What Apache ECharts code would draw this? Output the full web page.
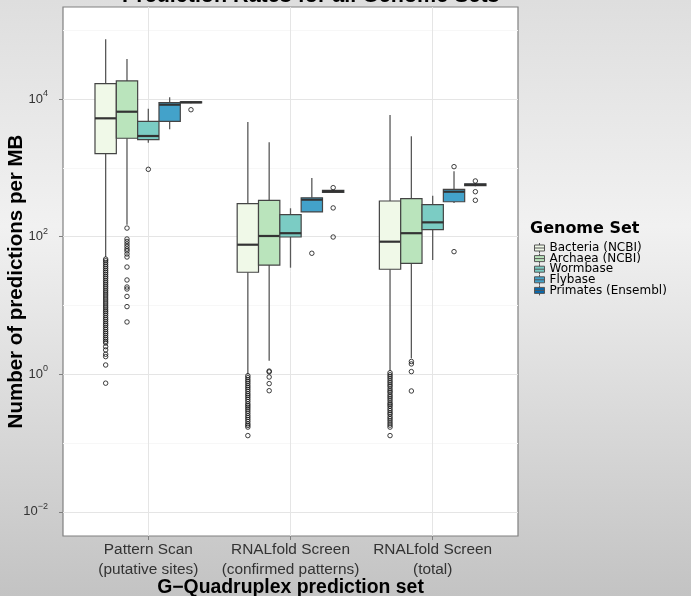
<!DOCTYPE html>
<html>
<head>
<meta charset="utf-8">
<script src="https://cdn.jsdelivr.net/npm/echarts@6/dist/echarts.min.js"></script>
<style>html,body{margin:0;padding:0;}#chart{width:691px;height:596px;}</style>
</head>
<body>
<div id="chart"></div>
<script>
// ---- Data ----
const categories = ['Pattern Scan\n(putative sites)', 'RNALfold Screen\n(confirmed patterns)', 'RNALfold Screen\n(total)'];
const genomeSets = ['Bacteria (NCBI)', 'Archaea (NCBI)', 'Wormbase', 'Flybase', 'Primates (Ensembl)'];
const yMajorTicks = [0.01, 1, 100, 10000];
const yMinorTicks = [0.1, 10, 1000, 100000];

// box stats per category: [lower whisker, Q1, median, Q3, upper whisker]
const bacteriaStats = [[50.5, 1603, 5236, 16670, 73800], [0.997, 30.3, 76.2, 301, 4640], [1.11, 33.5, 84.3, 329, 5850]];
const archaeaStats  = [[148, 2685, 6530, 18280, 38100], [1.57, 38.6, 102, 337, 2350], [1.70, 40.9, 112, 356, 2870]];
const wormbaseStats = [[2317, 2560, 2897, 4740, 7230], [35.3, 98.6, 112, 208, 258], [45.7, 126, 161, 291, 393]];
const flybaseStats  = [[3630, 4740, 8260, 8840, 10590], [228, 228, 344, 367, 711], [308, 321, 449, 487, 889]];
const primatesStats = [[8700, 8800, 8950, 9100, 9300], [430, 440, 455, 470, 480], [540, 550, 565, 585, 600]];

// outliers per category
const bacteriaOut = [
  [47, 44.5, 41.8, 39, 36.5, 34.2, 32, 30.1, 28.2, 26.4, 24.8, 23.1, 21.7, 20.3, 19, 17.8, 16.6, 15.6, 14.6, 13.7, 12.8, 12, 11.2, 10.5, 9.8, 9.2, 8.6, 8.1, 7.6, 7.1, 6.6, 6.2, 5.8, 5.4, 5.1, 4.75, 4.45, 4.15, 3.9, 3.65, 3.4, 3.2, 3.0, 2.84, 2.51, 2.25, 1.95, 1.80, 1.36, 0.74],
  [0.95, 0.89, 0.83, 0.78, 0.73, 0.68, 0.64, 0.6, 0.56, 0.52, 0.49, 0.46, 0.43, 0.4, 0.37, 0.35, 0.33, 0.31, 0.29, 0.27, 0.25, 0.235, 0.22, 0.205, 0.19, 0.18, 0.17, 0.128],
  [1.05, 0.98, 0.92, 0.86, 0.8, 0.75, 0.7, 0.66, 0.61, 0.57, 0.54, 0.5, 0.47, 0.44, 0.41, 0.38, 0.36, 0.34, 0.315, 0.295, 0.275, 0.26, 0.24, 0.225, 0.21, 0.195, 0.182, 0.17, 0.128]
];
const archaeaOut  = [[133, 92.2, 84.9, 78.0, 71.8, 66.0, 61.8, 55.9, 50.5, 36.1, 23.4, 18.5, 17.3, 13.5, 9.6, 5.74], [1.11, 1.08, 0.91, 0.73, 0.575], [1.53, 1.41, 1.09, 0.57]];
const wormbaseOut = [[950], [], []];
const flybaseOut  = [[], [57.2], [1038, 60.4]];
const primatesOut = [[6980], [514, 261, 98.6], [643, 449, 337]];

// ---- Styling / layout ----
const palette = ['#f0f9e8', '#bae4bc', '#7bccc4', '#43a2ca', '#0868ac'];
const FONT = '"Liberation Sans", Arial, Helvetica, sans-serif';
const LEGEND_FONT = '"DejaVu Sans", "Liberation Sans", Arial, sans-serif';
const BOX_W = 0.15;
const allStats = [bacteriaStats, archaeaStats, wormbaseStats, flybaseStats, primatesStats];
const allOut = [bacteriaOut, archaeaOut, wormbaseOut, flybaseOut, primatesOut];

function xPos(catIdx, setIdx) { return (catIdx + 1) + (setIdx - 2) * BOX_W; }

function renderBox(params, api) {
  const x = api.value(0);
  const v = [1, 2, 3, 4, 5].map(d => api.value(d));
  const yOf = val => api.coord([x, val])[1];
  const cx = api.coord([x, v[2]])[0];
  const xl = api.coord([x - BOX_W / 2, v[2]])[0];
  const xr = api.coord([x + BOX_W / 2, v[2]])[0];
  const yLo = yOf(v[0]), yQ1 = yOf(v[1]), yMed = yOf(v[2]), yQ3 = yOf(v[3]), yHi = yOf(v[4]);
  const fill = api.visual('color');
  const wStyle = { stroke: '#595959', lineWidth: 1.3 };
  return {
    type: 'group',
    children: [
      { type: 'line', shape: { x1: cx, y1: yHi, x2: cx, y2: yQ3 }, style: wStyle },
      { type: 'line', shape: { x1: cx, y1: yQ1, x2: cx, y2: yLo }, style: wStyle },
      { type: 'rect', shape: { x: xl, y: yQ3, width: xr - xl, height: Math.max(yQ1 - yQ3, 0.5) },
        style: { fill: fill, stroke: '#444', lineWidth: 1.2 } },
      { type: 'line', shape: { x1: xl, y1: yMed, x2: xr, y2: yMed }, style: { stroke: '#333', lineWidth: 2.2 } }
    ]
  };
}

const series = [];
genomeSets.forEach((name, s) => {
  series.push({
    name: name,
    type: 'custom',
    renderItem: renderBox,
    itemStyle: { color: palette[s] },
    encode: { x: 0, y: [1, 2, 3, 4, 5] },
    data: allStats[s].map((st, c) => [xPos(c, s)].concat(st)),
    z: 2
  });
});
genomeSets.forEach((name, s) => {
  const pts = [];
  allOut[s].forEach((arr, c) => arr.forEach(val => pts.push([xPos(c, s), val])));
  series.push({
    name: name,
    type: 'scatter',
    symbol: 'circle',
    symbolSize: 4.5,
    itemStyle: { color: 'rgba(0,0,0,0)', borderColor: '#111', borderWidth: 1 },
    data: pts,
    z: 3
  });
});

const ICON = 'path://M0,0H0.01V0.01H0Z M10,10H9.99V9.99H10Z M0,2H10V8H0Z M0,5H10 M5,0V2 M5,8V10';

const chart = echarts.init(document.getElementById('chart'), null, { renderer: 'canvas' });
chart.setOption({
  animation: false,
  backgroundColor: {
    type: 'linear', x: 0, y: 0, x2: 0, y2: 1,
    colorStops: [
      { offset: 0, color: '#dedede' },
      { offset: 0.38, color: '#f1f1f1' },
      { offset: 1, color: '#c3c3c3' }
    ]
  },
  title: [
    { text: 'Prediction Rates for all Genome Sets', left: 117, top: -20,
      textStyle: { fontFamily: FONT, fontWeight: 'bold', fontSize: 21.5, color: '#000' } },
    { text: 'Genome Set', left: 530, top: 221, padding: 0,
      textStyle: { fontFamily: LEGEND_FONT, fontWeight: 'bold', fontSize: 16, color: '#000' } }
  ],
  legend: {
    orient: 'vertical',
    left: 534, top: 242,
    padding: 0,
    itemWidth: 10, itemHeight: 10, itemGap: -1.4,
    selectedMode: false,
    textStyle: { fontFamily: LEGEND_FONT, fontSize: 12, color: '#000' },
    data: genomeSets.map((n, i) => ({ name: n, icon: ICON,
      itemStyle: { color: palette[i], borderColor: '#555', borderWidth: 1 } }))
  },
  grid: {
    left: 63, right: 173, top: 7, bottom: 60,
    outerBoundsMode: 'none',
    containLabel: false,
    show: true, backgroundColor: '#ffffff', borderColor: '#808080', borderWidth: 1.2
  },
  xAxis: {
    type: 'value', min: 0.4, max: 3.6,
    name: 'G\u2212Quadruplex prediction set',
    nameLocation: 'middle', nameGap: 42, nameMoveOverlap: false,
    nameTextStyle: { fontFamily: FONT, fontWeight: 'bold', fontSize: 19.4, color: '#000' },
    axisLine: { show: false },
    axisTick: { show: true, customValues: [1, 2, 3], length: 4, lineStyle: { color: '#7f7f7f' } },
    axisLabel: { customValues: [1, 2, 3], formatter: v => categories[Math.round(v) - 1],
      fontFamily: FONT, fontSize: 15.4, lineHeight: 20, color: '#333', margin: 4 },
    splitLine: { show: true, lineStyle: { color: '#e5e5e5', width: 1 } }
  },
  yAxis: [
    {
      type: 'log', logBase: 10,
      min: Math.pow(10, -2.352), max: Math.pow(10, 5.337),
      name: 'Number of predictions per MB',
      nameLocation: 'middle', nameGap: 36, nameMoveOverlap: false,
      nameTextStyle: { fontFamily: FONT, fontWeight: 'bold', fontSize: 20.5, color: '#000', padding: [0, 20, 0, 0] },
      axisLine: { show: false },
      axisTick: { show: true, customValues: yMajorTicks, length: 4, lineStyle: { color: '#7f7f7f' } },
      axisLabel: {
        customValues: yMajorTicks, margin: 15,
        formatter: v => { const e = Math.round(Math.log10(v)); return '{b|10}{s|' + (e < 0 ? '\u2212' : '') + Math.abs(e) + '}'; },
        rich: {
          b: { fontFamily: FONT, fontSize: 13, color: '#333', lineHeight: 20 },
          s: { fontFamily: FONT, fontSize: 9, color: '#333', verticalAlign: 'top', lineHeight: 12 }
        }
      },
      splitLine: { show: true, lineStyle: { color: '#e5e5e5', width: 1 } }
    },
    {
      type: 'log', logBase: 10,
      min: Math.pow(10, -2.352), max: Math.pow(10, 5.337),
      position: 'left',
      axisLine: { show: false },
      axisTick: { show: false, customValues: yMinorTicks },
      axisLabel: { show: false, customValues: yMinorTicks },
      splitLine: { show: true, lineStyle: { color: '#f7f7f7', width: 1 } }
    }
  ],
  series: series
});
</script>
</body>
</html>
